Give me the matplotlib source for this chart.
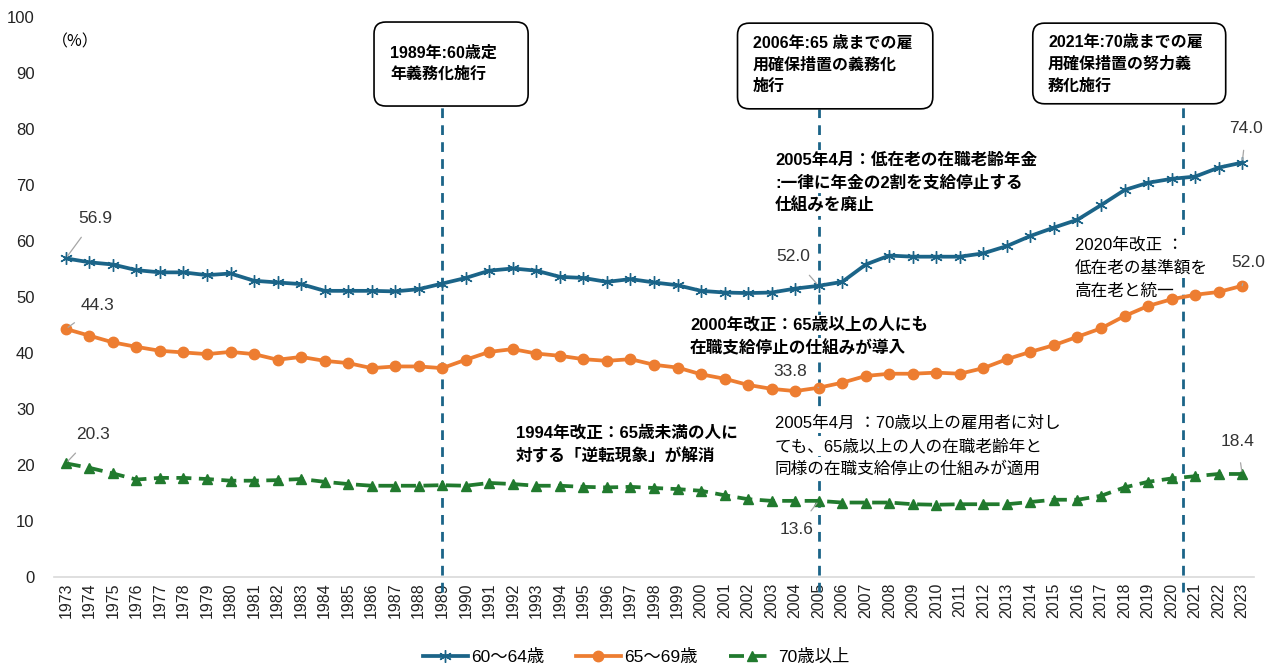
import numpy as np
import matplotlib
matplotlib.use("Agg")
from matplotlib import pyplot as plt
from matplotlib.patches import FancyBboxPatch

plt.rcParams['font.family'] = ['Liberation Sans', 'Noto Sans CJK JP', 'DejaVu Sans']

years = list(range(1973, 2024))

# 就業率 (%)
rate_60_64 = [56.9, 56.2, 55.8, 54.8, 54.4, 54.4, 53.9, 54.2, 52.9, 52.6,
              52.3, 51.1, 51.1, 51.1, 51.0, 51.4, 52.4, 53.4, 54.7, 55.1,
              54.7, 53.6, 53.4, 52.7, 53.2, 52.6, 52.1, 51.1, 50.8, 50.7,
              50.8, 51.5, 52.0, 52.7, 55.8, 57.4, 57.2, 57.2, 57.2, 57.8,
              59.1, 60.9, 62.4, 63.8, 66.4, 69.1, 70.4, 71.1, 71.5, 73.1,
              74.0]
rate_65_69 = [44.3, 43.1, 41.9, 41.1, 40.4, 40.1, 39.8, 40.2, 39.8, 38.8,
              39.3, 38.6, 38.2, 37.3, 37.6, 37.6, 37.3, 38.8, 40.2, 40.7,
              39.9, 39.5, 38.9, 38.6, 38.9, 37.9, 37.4, 36.2, 35.4, 34.3,
              33.6, 33.2, 33.8, 34.7, 35.9, 36.3, 36.3, 36.5, 36.3, 37.3,
              38.9, 40.2, 41.4, 42.9, 44.4, 46.6, 48.4, 49.6, 50.4, 50.9,
              52.0]
rate_70 = [20.3, 19.5, 18.5, 17.4, 17.7, 17.7, 17.5, 17.2, 17.2, 17.3,
           17.5, 17.0, 16.6, 16.3, 16.3, 16.3, 16.4, 16.3, 16.8, 16.6,
           16.3, 16.3, 16.1, 16.0, 16.1, 15.9, 15.7, 15.4, 14.6, 13.9,
           13.6, 13.6, 13.6, 13.3, 13.3, 13.3, 13.0, 12.9, 13.0, 13.0,
           13.0, 13.4, 13.8, 13.8, 14.5, 16.0, 17.0, 17.6, 18.0, 18.4,
           18.4]

series_names = ['60～64歳', '65～69歳', '70歳以上']

# 制度改正の時期
reform_years = [1989, 2005, 2020.5]
reform_texts = [['1989年:60歳定', '年義務化施行'],
                ['2006年:65 歳までの雇', '用確保措置の義務化', '施行'],
                ['2021年:70歳までの雇', '用確保措置の努力義', '務化施行']]

BLUE = '#1B6488'
ORANGE = '#ED7D31'
GREEN = '#217A2E'
LABEL = '#333333'

fig = plt.figure(figsize=(12.72, 6.66), dpi=100)
ax = fig.add_axes([0.0425, 0.1336, 0.9433, 0.8409])

ax.plot(years, rate_60_64, color=BLUE, lw=2.7, marker=(6, 2, 0), ms=9,
        mew=1.0, zorder=4, label=series_names[0])
ax.plot(years, rate_65_69, color=ORANGE, lw=2.7, marker='o', ms=7.5,
        zorder=4, label=series_names[1])
ax.plot(years, rate_70, color=GREEN, lw=2.7, marker='^', ms=7.5,
        dashes=(4, 2), zorder=4, label=series_names[2])

ax.set_xlim(1972.5, 2023.5)
ax.set_ylim(0, 100)
ax.set_yticks(range(0, 101, 10))
ax.set_xticks(years)
ax.set_xticklabels([str(y) for y in years], rotation=90)
ax.tick_params(axis='y', length=0, pad=14, labelsize=12, labelcolor='#222222')
ax.tick_params(axis='x', length=0, pad=4, labelsize=11.5, labelcolor='#222222')
for s in ['top', 'right', 'left']:
    ax.spines[s].set_visible(False)
ax.spines['bottom'].set_color('#D9D9D9')
ax.spines['bottom'].set_linewidth(1.2)

ax.text(1973.4, 95.6, '（%）', fontsize=11.5, ha='center', va='center',
        family=['Noto Sans CJK JP', 'DejaVu Sans'])

# 吹き出し枠と縦の点線
boxes = [(1986.1, 84.1, 6.55, 15.0), (2001.55, 83.6, 8.3, 15.3),
         (2014.1, 84.5, 8.2, 14.4)]
text_left = [1986.8, 2002.2, 2014.75]
text_top = [93.6, 95.3, 95.4]
for yr, (bx, by, bw, bh), lines, tx, ty in zip(reform_years, boxes,
                                                  reform_texts, text_left, text_top):
    ax.plot([yr, yr], [-2.6, by], color=BLUE, lw=2, dashes=(3.5, 2.6),
            clip_on=False, zorder=2)
    box = FancyBboxPatch((bx, by), bw, bh,
                         boxstyle='round,pad=0,rounding_size=0.5',
                         mutation_aspect=4.2, fc='white', ec='black', lw=1.2,
                         zorder=5)
    ax.add_patch(box)
    for i, s in enumerate(lines):
        ax.text(tx, ty - i * 3.85, s, fontsize=11.5, fontweight='bold',
                ha='left', va='center', zorder=6)


def note(x, y, lines, weight='bold'):
    for i, s in enumerate(lines):
        ax.text(x, y - i * 4.1, s, fontsize=12, fontweight=weight,
                ha='left', va='center', zorder=3,
                bbox=dict(fc='white', ec='none', pad=1.5))


note(2003.14, 74.5, ['2005年4月：低在老の在職老齢年金',
                     ':一律に年金の2割を支給停止する', '仕組みを廃止'])
note(1999.53, 45.0, ['2000年改正：65歳以上の人にも', '在職支給停止の仕組みが導入'])
note(1992.13, 25.7, ['1994年改正：65歳未満の人に', '対する「逆転現象」が解消'])
note(2003.14, 27.5, ['2005年4月 ：70歳以上の雇用者に対し',
                     'ても、65歳以上の人の在職老齢年と',
                     '同様の在職支給停止の仕組みが適用'], weight='normal')
note(2015.9, 59.3, ['2020年改正 ：', '低在老の基準額を', '高在老と統一'],
     weight='normal')

# データラベル
i05 = years.index(2005)
labels = [(rate_60_64, 0, (1974.26, 64.1)),
          (rate_65_69, 0, (1974.36, 48.4)),
          (rate_70, 0, (1974.15, 25.4)),
          (rate_60_64, i05, (2003.9, 57.2)),
          (rate_65_69, i05, (2003.8, 36.7)),
          (rate_70, i05, (2004.05, 8.4)),
          (rate_60_64, -1, (2023.17, 80.0)),
          (rate_65_69, -1, (2023.25, 56.2)),
          (rate_70, -1, (2022.8, 24.2))]
for vals, idx, pos in labels:
    ax.annotate(f'{vals[idx]:.1f}', xy=(years[idx], vals[idx]), xytext=pos,
                fontsize=12.5, color=LABEL, ha='center', va='center',
                arrowprops=dict(arrowstyle='-', color='#A6A6A6', lw=0.9,
                                shrinkA=8, shrinkB=2), zorder=6)

fig.legend(loc='lower center', bbox_to_anchor=(0.5, -0.022), ncol=3,
           frameon=False, fontsize=12.5, handlelength=2.6, columnspacing=1.8,
           handletextpad=0.2)

fig.savefig('out.png', dpi=100)
